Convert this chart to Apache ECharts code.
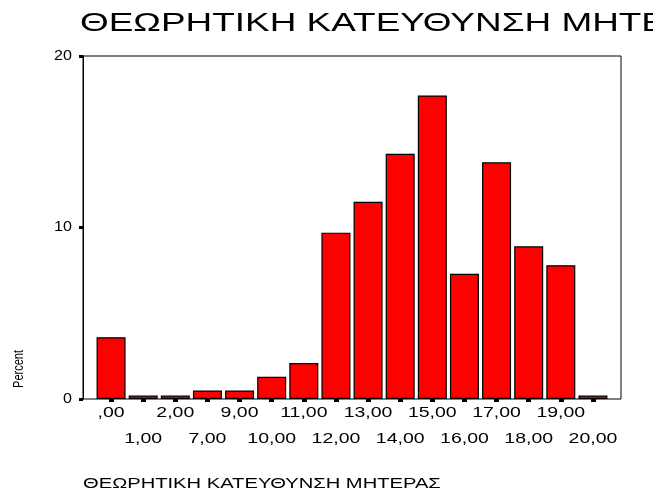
<!DOCTYPE html>
<html>
<head>
<meta charset="utf-8">
<script src="https://cdn.jsdelivr.net/npm/echarts@6/dist/echarts.min.js"></script>
<style>
  html, body { margin: 0; padding: 0; background: #fff; }
  #chart { width: 653px; height: 492px; }
</style>
</head>
<body>
<div id="chart"></div>
<script>
// Score categories (mother's theoretical direction) and percent of cases
const categories = [',00', '1,00', '2,00', '7,00', '9,00', '10,00', '11,00', '12,00',
                    '13,00', '14,00', '15,00', '16,00', '17,00', '18,00', '19,00', '20,00'];
const percents = [3.6, 0.2, 0.2, 0.5, 0.5, 1.3, 2.1, 9.7,
                  11.5, 14.3, 17.7, 7.3, 13.8, 8.9, 7.8, 0.2];
const yTicks = [0, 10, 20];

const chartTitle = 'ΘΕΩΡΗΤΙΚΗ ΚΑΤΕΥΘΥΝΣΗ ΜΗΤΕΡΑΣ';
const xName = 'ΘΕΩΡΗΤΙΚΗ ΚΑΤΕΥΘΥΝΣΗ ΜΗΤΕΡΑΣ';
const yName = 'Percent';

const FONT = 'Arial, "Liberation Sans", sans-serif';
const WIDE = 1.3;   // horizontal stretch of the lettering
const chart = echarts.init(document.getElementById('chart'), null, { renderer: 'canvas' });

chart.setOption({
  animation: false,
  backgroundColor: '#ffffff',
  grid: [
    // framed plotting box
    { left: 83, top: 56, width: 538, height: 343, show: true,
      borderColor: '#000', borderWidth: 1, backgroundColor: 'transparent' },
    // inner band where the bars sit
    { left: 95, top: 56, width: 514, height: 343 }
  ],
  xAxis: [
    { gridIndex: 0, type: 'value', min: 0, max: 1, show: false },
    {
      gridIndex: 1, type: 'category', data: categories,
      axisLine: { show: false },
      axisTick: { show: true, interval: 0, alignWithLabel: true, length: 3,
                  lineStyle: { color: '#000', width: 5 } },
      axisLabel: { show: false, interval: 0 }
    }
  ],
  yAxis: [
    {
      gridIndex: 0, type: 'value', min: yTicks[0], max: yTicks[yTicks.length - 1], interval: 10,
      axisLine: { show: true, lineStyle: { color: '#000', width: 1 } },
      axisTick: { show: true, length: 4, lineStyle: { color: '#000', width: 3 } },
      splitLine: { show: false },
      axisLabel: { show: false }
    },
    { gridIndex: 1, type: 'value', min: 0, max: 20, show: false }
  ],
  series: [
    {
      type: 'bar', xAxisIndex: 1, yAxisIndex: 1,
      data: percents, barWidth: 29,
      itemStyle: { color: '#ff0000', borderColor: '#000', borderWidth: 1.2 }
    }
  ]
});

// Lettering is drawn as wide text elements placed through the axes' scales
function wideText(x, y, text, size, align, extra) {
  return Object.assign({
    type: 'text', x: x, y: y, scaleX: WIDE, silent: true,
    style: { text: text, fontFamily: FONT, fontSize: size, fill: '#000',
             align: align, verticalAlign: 'middle' }
  }, extra || {});
}

const labels = [];
labels.push(wideText(80, 24, chartTitle, 26, 'left', { scaleX: 1.42 }));

categories.forEach((c, i) => {
  const px = chart.convertToPixel({ xAxisIndex: 1 }, c);
  const row = i % 2 === 0 ? 413 : 439;
  labels.push(wideText(px, row, c, 15, 'center'));
});

yTicks.forEach(v => {
  const py = chart.convertToPixel({ yAxisIndex: 0 }, v);
  labels.push(wideText(72, py, String(v), 14, 'right', { scaleX: 1.15 }));
});

labels.push(wideText(83, 484, xName, 14, 'left', { scaleX: 1.44 }));
labels.push({
  type: 'text', x: 19, y: 369, rotation: Math.PI / 2, scaleY: 1.3, silent: true,
  style: { text: yName, fontFamily: FONT, fontSize: 11, fill: '#000',
           align: 'center', verticalAlign: 'middle' }
});

chart.setOption({ graphic: labels });
</script>
</body>
</html>
